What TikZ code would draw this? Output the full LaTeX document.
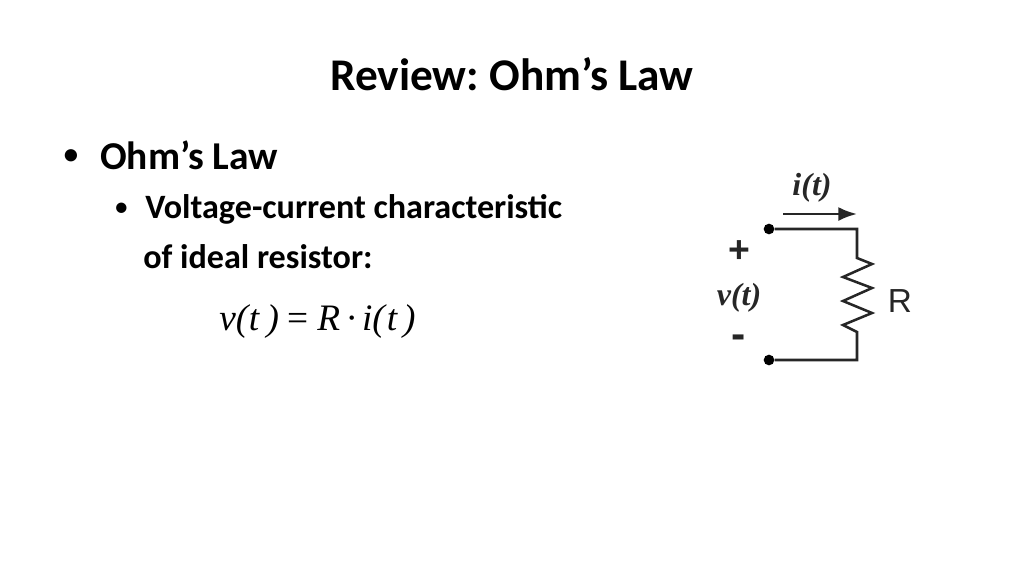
\documentclass[tikz,border=0pt]{standalone}
\usepackage{fontspec}
\setmainfont{Carlito}
\newfontfamily\timesfont{Liberation Serif}
\newfontfamily\armfont{Liberation Sans}
\usetikzlibrary{arrows.meta}
\tikzset{
  titletext/.style={anchor=base,inner sep=0.75pt,font=\fontsize{34}{38}\selectfont\bfseries},
  headtext/.style={anchor=base west,inner sep=0pt,font=\fontsize{29.6}{34}\selectfont\bfseries},
  subtext/.style={anchor=base west,inner sep=0pt,font=\fontsize{25.6}{30}\selectfont\bfseries},
  bulletmark/.style={inner sep=0.75pt},
  wire/.style={line width=1.9pt,color=black!85},
  terminal/.style={circle,fill=black,inner sep=0pt,minimum size=8pt},
  circuittext/.style={inner sep=0.75pt,color=black!85},
}
\begin{document}
\frenchspacing
\begin{tikzpicture}[x=0.75pt,y=0.75pt,yscale=-1,xscale=1]
\useasboundingbox (0,0) rectangle (1024,576);

% Text Node
\draw (512,90) node [titletext] (title) {Review: Ohm’s Law};
% Text Node
\draw (71,158) node [bulletmark,font=\fontsize{26}{30}\selectfont] (bulletone) {•};
% Text Node
\draw (100,169) node [headtext] (ohm) {Ohm’s Law};
% Text Node
\draw (121.5,210) node [bulletmark,font=\fontsize{22}{26}\selectfont] (bullettwo) {•};
% Text Node
\draw (145,218) node [subtext] (volt) {Voltage-current characteristic};
% Text Node
\draw (143,268) node [subtext] (ideal) {of ideal resistor:};
% Text Node
\draw (219,322) node [anchor=west,inner sep=0pt,font=\fontsize{28}{32}\selectfont\timesfont\itshape] (formula) {v(\hspace{0.5pt}t\hspace{5.5pt}){\upshape\hspace{6pt}=\hspace{7pt}}R\hspace{4pt}{\upshape·}\hspace{3pt}i(\hspace{1.5pt}t\hspace{4.5pt})};

% Terminals and corners
\node [terminal] (topdot) at (769,229) {};
\node [terminal] (botdot) at (769,360) {};
\coordinate (topcorner) at (857,229);
\coordinate (botcorner) at (857,360);
\coordinate (resin) at (857,258);
\coordinate (resout) at (857,332);
\coordinate (arrowstart) at (783,214);
\coordinate (arrowend) at (857,214);

%Straight Lines
\draw [wire] (topdot) -- (topcorner) -- (resin) -- (872,264) -- (843,277) -- (872,288) -- (843,301) -- (872,313) -- (843,325) -- (resout) -- (botcorner) -- (botdot);
%Straight Lines
\draw [wire,-{Latex[length=14pt,width=10.5pt]}] (arrowstart) -- (arrowend);

% Text Node
\draw (812,188) node [circuittext,font=\fontsize{24}{28}\selectfont\timesfont\bfseries\itshape] (current) {i(t)};
% Text Node
\draw (739,252) node [circuittext,font=\fontsize{28}{32}\selectfont\armfont\bfseries] (plus) {+};
% Text Node
\draw (739,298) node [circuittext,font=\fontsize{24}{28}\selectfont\timesfont\bfseries\itshape] (voltage) {v(t)};
% Text Node
\draw (739,342) node [circuittext,font=\fontsize{32}{36}\selectfont\armfont\bfseries] (minus) {-};
% Text Node
\draw (900,301) node [circuittext,font=\fontsize{25}{29}\selectfont\armfont] (resistor) {R};

\end{tikzpicture}
\end{document}
